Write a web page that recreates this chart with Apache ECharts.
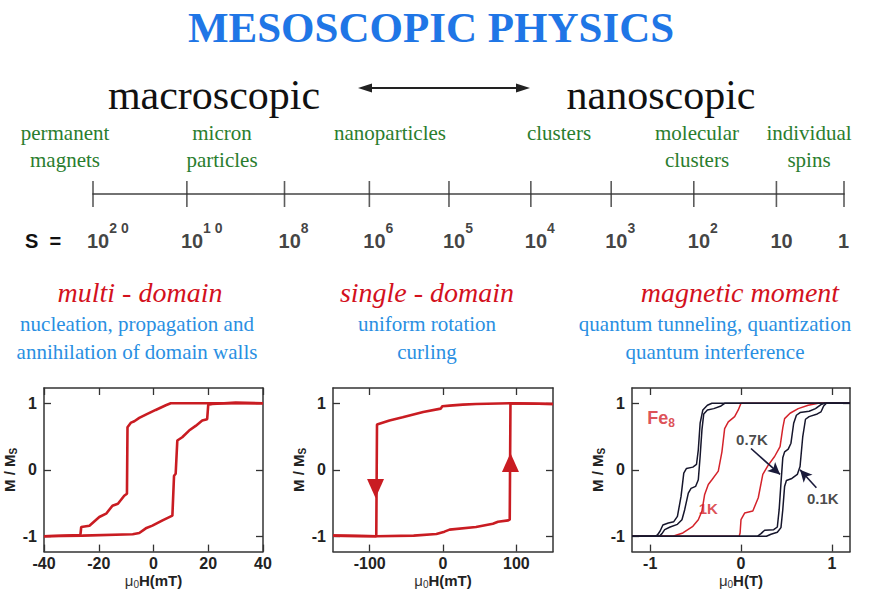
<!DOCTYPE html>
<html>
<head>
<meta charset="utf-8">
<script src="https://cdn.jsdelivr.net/npm/echarts@6/dist/echarts.min.js"></script>
<style>html,body{margin:0;padding:0;background:#fff}#c{width:869px;height:590px}</style>
</head>
<body>
<div id="c"></div>
<script>
// ---------- DATA ----------
const scaleLabels = ['10^2 0', '10^1 0', '10^8', '10^6', '10^5', '10^4', '10^3', '10^2', '10', '1'];
const scalePos = [0, 12.5, 25.5, 36.8, 47.4, 58.3, 69.0, 80.0, 91.0, 100];   // tick positions along the size bar (% of bar)
const sizeClasses = ['permanent\nmagnets', 'micron\nparticles', 'nanoparticles', 'clusters', 'molecular\nclusters', 'individual\nspins'];
const regimes = ['multi - domain', 'single - domain', 'magnetic moment'];
const regimeNotes = ['nucleation, propagation and\nannihilation of domain walls', 'uniform rotation\ncurling', 'quantum tunneling, quantization\nquantum interference'];

const plotXRange = [[-40, 40], [-150, 150], [-1.2, 1.2]];
const plotXTicks = [[-40, -20, 0, 20, 40], [-100, 0, 100], [-1, 0, 1]];
const plotYRange = [-1.23, 1.23];
const plotYTicks = [-1, 0, 1];
const plotXUnits = ['mT', 'mT', 'T'];

// multi-domain loop  [mu0H (mT), M/Ms]
const multiDown = [[40,1],[6.3,1],[4.5,0.97],[0.8,0.9],[-2.8,0.83],[-5.2,0.78],[-7,0.73],[-8.2,0.71],[-9.5,0.64],[-9.7,-0.36],[-10.7,-0.39],[-13,-0.51],[-15,-0.54],[-17.3,-0.66],[-19.8,-0.71],[-23.4,-0.84],[-26.4,-0.86],[-26.7,-0.98],[-40,-1]];
const multiUp = [[-40,-1],[-26,-0.99],[-7.6,-0.97],[-5.2,-0.95],[-2.8,-0.88],[-0.4,-0.84],[3.3,-0.76],[6.9,-0.69],[7.5,-0.09],[8.1,-0.06],[8.7,0.44],[10.5,0.49],[13,0.59],[15.4,0.66],[17.8,0.74],[19.6,0.76],[20,0.98],[21.5,0.99],[30,1.01],[40,1]];

// single-domain loop
const singleDown = [[150,0.99],[91,1],[45,0.99],[27,0.98],[9,0.965],[-1,0.955],[-3,0.92],[-27,0.87],[-55,0.79],[-73,0.74],[-90,0.68],[-91,-1],[-150,-0.99]];
const singleUp = [[-150,-0.99],[-91,-1],[-40,-0.99],[-9,-0.965],[2,-0.93],[9,-0.9],[45,-0.86],[68,-0.81],[75,-0.78],[89,-0.76],[91,-0.75],[92,1],[150,0.99]];
const singleArrows = [[-92, -0.28, 'down'], [92, 0.11, 'up']];

// Fe8 loops  [mu0H (T), M/Ms]
const fe1KDown = [[1.2,1],[0.0,1],[-0.03,0.9],[-0.07,0.8],[-0.14,0.72],[-0.18,0.62],[-0.21,0.27],[-0.25,-0.02],[-0.32,-0.15],[-0.36,-0.22],[-0.4,-0.37],[-0.43,-0.62],[-0.47,-0.75],[-0.53,-0.85],[-0.64,-0.95],[-0.75,-1],[-1.2,-1]];
const fe1KUp = [[-1.2,-1],[-0.02,-1],[-0.01,-0.95],[0.0,-0.75],[0.04,-0.65],[0.13,-0.62],[0.19,-0.42],[0.24,-0.07],[0.3,0.07],[0.37,0.2],[0.43,0.35],[0.46,0.63],[0.48,0.77],[0.54,0.85],[0.63,0.92],[0.74,0.97],[0.85,1],[1.2,1]];
const fe07Down = [[1.2,1],[-0.18,1],[-0.22,0.96],[-0.3,0.92],[-0.37,0.9],[-0.41,0.84],[-0.43,0.6],[-0.45,0.2],[-0.47,-0.15],[-0.5,-0.25],[-0.55,-0.28],[-0.58,-0.35],[-0.62,-0.6],[-0.65,-0.75],[-0.7,-0.82],[-0.78,-0.86],[-0.84,-0.9],[-0.87,-0.96],[-0.9,-1],[-1.2,-1]];
const fe07Up = [[-1.2,-1],[0.18,-1],[0.22,-0.96],[0.26,-0.91],[0.36,-0.9],[0.4,-0.86],[0.42,-0.6],[0.44,-0.2],[0.46,0.18],[0.48,0.27],[0.52,0.31],[0.55,0.4],[0.58,0.7],[0.61,0.82],[0.65,0.86],[0.75,0.88],[0.82,0.92],[0.88,0.98],[0.92,1],[1.2,1]];
const fe01Down = [[1.2,1],[-0.32,1],[-0.37,0.97],[-0.42,0.9],[-0.45,0.7],[-0.47,0.3],[-0.49,0.08],[-0.53,0.04],[-0.6,0.02],[-0.63,-0.05],[-0.66,-0.4],[-0.7,-0.7],[-0.74,-0.78],[-0.8,-0.8],[-0.86,-0.83],[-0.89,-0.92],[-0.92,-0.98],[-0.95,-1],[-1.2,-1]];
const fe01Up = [[-1.2,-1],[0.28,-1],[0.33,-0.97],[0.4,-0.94],[0.44,-0.87],[0.46,-0.6],[0.48,-0.25],[0.5,-0.16],[0.56,-0.13],[0.62,-0.07],[0.65,0.05],[0.68,0.5],[0.71,0.76],[0.75,0.8],[0.84,0.84],[0.88,0.87],[0.91,0.96],[0.94,1],[1.2,1]];
const feLabels = ['Fe_8', '0.7K', '1K', '0.1K'];
const feLabelAt = [[-0.88, 0.78], [0.12, 0.45], [-0.36, -0.58], [0.9, -0.43]];
const feArrows = [[[0.11, 0.32], [0.43, -0.07]], [[0.83, -0.27], [0.65, 0.0]]];

// ---------- LAYOUT / STYLE ----------
const SANS = '"Liberation Sans", Arial, sans-serif';
const SERIF = '"Liberation Serif", "Times New Roman", serif';
const RED = '#c91c22';
const NAVY = '#16162c';
const AX = '#333';
const plotLayout = [{left: 44, width: 219}, {left: 333, width: 220}, {left: 632, width: 218}];
const PTOP = 388, PH = 164;

const grids = plotLayout.map(p => ({left: p.left, width: p.width, top: PTOP, height: PH}));
grids.push({left: 93, width: 751, top: 181, height: 26});

const xAxes = [], yAxes = [];
const tickStyle = {lineStyle: {color: AX, width: 1.3}};
plotLayout.forEach((p, i) => {
  const common = {type: 'value', gridIndex: i, min: plotXRange[i][0], max: plotXRange[i][1], splitLine: {show: false},
    axisLine: {onZero: false, lineStyle: {color: AX, width: 1.5}}};
  xAxes.push(Object.assign({}, common, {
    position: 'bottom',
    axisTick: Object.assign({inside: true, length: 7, customValues: plotXTicks[i]}, tickStyle),
    axisLabel: {customValues: plotXTicks[i], color: '#222', fontFamily: SANS, fontWeight: 'bold', fontSize: 16, margin: 4},
    name: '{mu|μ}{s|0}{b|H(' + plotXUnits[i] + ')}', nameLocation: 'middle', nameGap: 19,
    nameTextStyle: {rich: {
      mu: {fontFamily: SANS, fontSize: 15, color: '#333', lineHeight: 18},
      s: {fontFamily: SANS, fontSize: 10, color: '#333', verticalAlign: 'bottom', lineHeight: 10},
      b: {fontFamily: SANS, fontSize: 15, fontWeight: 'bold', color: '#222', lineHeight: 18}
    }}
  }));
  xAxes.push(Object.assign({}, common, {
    position: 'top',
    axisTick: Object.assign({inside: true, length: 7, customValues: plotXTicks[i]}, tickStyle),
    axisLabel: {show: false}
  }));
  const ycommon = {type: 'value', gridIndex: i, min: plotYRange[0], max: plotYRange[1], splitLine: {show: false},
    axisLine: {show: true, onZero: false, lineStyle: {color: AX, width: 1.5}}};
  yAxes.push(Object.assign({}, ycommon, {
    position: 'left',
    axisTick: Object.assign({show: true, inside: true, length: 7, customValues: plotYTicks}, tickStyle),
    axisLabel: {customValues: plotYTicks, color: '#222', fontFamily: SANS, fontWeight: 'bold', fontSize: 16, margin: 7},
    name: '{b|M / M}{s|S}', nameLocation: 'middle', nameGap: 18, nameRotate: 90,
    nameTextStyle: {rich: {
      b: {fontFamily: SANS, fontSize: 15, fontWeight: 'bold', color: '#222', lineHeight: 18},
      s: {fontFamily: SANS, fontSize: 10, fontWeight: 'bold', color: '#222', verticalAlign: 'bottom', lineHeight: 10}
    }}
  }));
  yAxes.push(Object.assign({}, ycommon, {
    position: 'right',
    axisTick: Object.assign({show: true, inside: true, length: 7, customValues: plotYTicks}, tickStyle),
    axisLabel: {show: false}
  }));
});
// size bar axes
xAxes.push({type: 'value', gridIndex: 3, min: 0, max: 100, axisLine: {onZero: true, lineStyle: {color: '#444', width: 1.6}},
  axisTick: {show: false}, axisLabel: {show: false}, splitLine: {show: false}});
yAxes.push({type: 'value', gridIndex: 3, min: -1, max: 1, show: false});

function line(data, xi, color, width, z) {
  return {type: 'line', xAxisIndex: xi, yAxisIndex: xi, data: data, showSymbol: false, symbol: 'none',
    lineStyle: {color: color, width: width}, z: z || 2, silent: true};
}

const series = [
  line(multiDown, 0, RED, 2.6), line(multiUp, 0, RED, 2.6),
  line(singleDown, 2, RED, 2.6), line(singleUp, 2, RED, 2.6),
  {type: 'scatter', xAxisIndex: 2, yAxisIndex: 2, symbol: 'triangle', symbolSize: [17, 19],
    itemStyle: {color: RED, opacity: 1},
    data: singleArrows.map(a => ({value: [a[0], a[1]], symbolRotate: a[2] === 'down' ? 180 : 0})), z: 5},
  line(fe1KDown, 4, '#d4232b', 1.5, 2), line(fe1KUp, 4, '#d4232b', 1.5, 2),
  line(fe07Down, 4, NAVY, 1.5, 3), line(fe07Up, 4, NAVY, 1.5, 3),
  line(fe01Down, 4, NAVY, 1.5, 3), line(fe01Up, 4, NAVY, 1.5, 3),
  {type: 'scatter', xAxisIndex: 4, yAxisIndex: 4, symbolSize: 1, itemStyle: {color: 'rgba(0,0,0,0)'}, z: 6,
    data: feLabels.map((t, i) => ({
      value: feLabelAt[i],
      label: {show: true, position: 'inside',
        formatter: t.indexOf('_') >= 0 ? '{b|' + t.split('_')[0] + '}{s|' + t.split('_')[1] + '}' : '{b|' + t + '}',
        rich: {
          b: {fontFamily: SANS, fontWeight: 'bold', fontSize: i === 0 ? 18 : 15, color: (i === 0 || i === 2) ? '#d4232b' : '#1a1a1a', lineHeight: 22},
          s: {fontFamily: SANS, fontWeight: 'bold', fontSize: 12, color: '#d4232b', verticalAlign: 'bottom', lineHeight: 12}
        }}
    })),
    markLine: {silent: true, symbol: ['none', 'arrow'], symbolSize: [9, 12], animation: false,
      lineStyle: {color: '#1a1a3a', width: 1.6, type: 'solid'}, label: {show: false},
      data: feArrows.map(a => [{coord: a[0]}, {coord: a[1]}])}
  },
  {type: 'scatter', xAxisIndex: 6, yAxisIndex: 6, symbol: 'rect', symbolSize: [1.6, 26],
    itemStyle: {color: '#333'}, z: 4,
    data: scalePos.map(p => [p, 0]),
    label: {show: true, position: 'bottom', distance: 14, align: 'left', offset: [-6, 0],
      formatter: prm => {
        const parts = scaleLabels[prm.dataIndex].split('^');
        return parts.length > 1 ? '{b|' + parts[0] + '}{sup|' + parts[1] + '}' : '{b|' + parts[0] + '}';
      },
      rich: {
        b: {fontFamily: SANS, fontWeight: 'bold', fontSize: 20, color: '#111', lineHeight: 40},
        sup: {fontFamily: SANS, fontWeight: 'bold', fontSize: 14, color: '#111', verticalAlign: 'top', lineHeight: 24}
      }}
  }
];

// ---------- TEXT GRAPHICS ----------
const graphic = [];
function txt(x, y, text, font, fill, lh) {
  graphic.push({type: 'text', x: x, y: y, silent: true,
    style: {text: text, font: font, fill: fill, align: 'center', verticalAlign: 'middle', lineHeight: lh}});
}
txt(431, 27, 'MESOSCOPIC PHYSICS', 'bold 43px ' + SERIF, '#1f76e6');
txt(214, 95, 'macroscopic', '42px ' + SERIF, '#111');
txt(661, 95, 'nanoscopic', '42px ' + SERIF, '#111');
graphic.push({type: 'line', silent: true, shape: {x1: 366, y1: 88, x2: 522, y2: 88}, style: {stroke: '#222', lineWidth: 2}});
graphic.push({type: 'polygon', silent: true, shape: {points: [[358, 88], [372, 83.5], [372, 92.5]]}, style: {fill: '#222'}});
graphic.push({type: 'polygon', silent: true, shape: {points: [[530, 88], [516, 83.5], [516, 92.5]]}, style: {fill: '#222'}});
const sizeX = [65, 222, 390, 559, 697, 809];
sizeClasses.forEach((t, i) => {
  graphic.push({type: 'text', x: sizeX[i], y: 119, silent: true,
    style: {text: t, font: '21px ' + SERIF, fill: '#2a7d2e', align: 'center', verticalAlign: 'top', lineHeight: 27}});
});
graphic.push({type: 'text', x: 25, y: 241, silent: true,
  style: {text: 'S  =', font: 'bold 20px ' + SANS, fill: '#111', align: 'left', verticalAlign: 'middle'}});
const regX = [140, 427, 740];
const noteX = [137, 427, 715];
regimes.forEach((t, i) => txt(regX[i], 292, t, 'italic 28px ' + SERIF, '#d3111d'));
regimeNotes.forEach((t, i) => {
  graphic.push({type: 'text', x: noteX[i], y: 310, silent: true,
    style: {text: t, font: '21px ' + SERIF, fill: '#2a8fe2', align: 'center', verticalAlign: 'top', lineHeight: 28}});
});

const chart = echarts.init(document.getElementById('c'), null, {renderer: 'svg', width: 869, height: 590});
chart.setOption({
  animation: false,
  backgroundColor: '#fff',
  grid: grids,
  xAxis: xAxes,
  yAxis: yAxes,
  series: series,
  graphic: graphic
});
</script>
</body>
</html>
